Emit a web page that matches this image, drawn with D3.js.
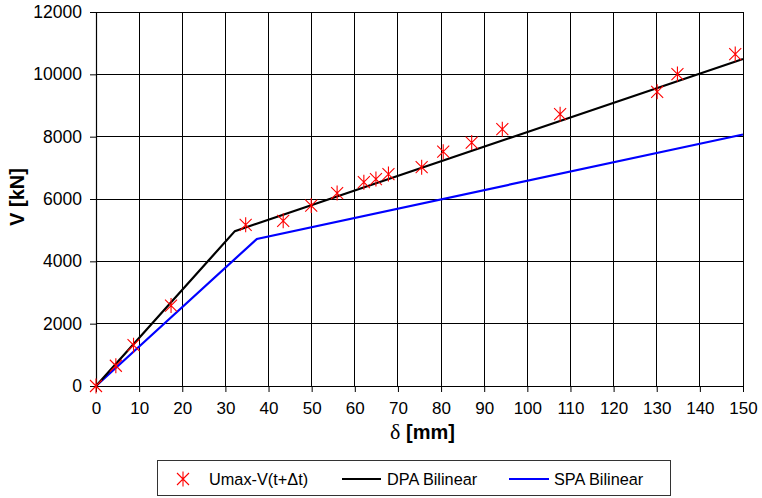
<!DOCTYPE html>
<html>
<head>
<meta charset="utf-8">
<script src="https://cdn.jsdelivr.net/npm/d3@7"></script>
<style>
  html, body { margin: 0; padding: 0; background: #fff; }
  svg { display: block; font-family: "Liberation Sans", Arial, Helvetica, sans-serif; }
</style>
</head>
<body>
<svg id="chart" width="762" height="498"></svg>
<script>
// Measured points: displacement δ [mm] and base shear V [kN]
const testDelta = [0, 4.6, 8.7, 17.4, 34.7, 43.4, 49.9, 55.9, 62.1, 64.9, 67.8, 75.5, 80.5, 87.1, 94.2, 107.6, 130.1, 134.8, 148.2];
const testV     = [0, 650, 1310, 2580, 5170, 5300, 5790, 6190, 6540, 6640, 6800, 7020, 7520, 7810, 8240, 8720, 9440, 10010, 10650];

// Bilinear idealisations
const dpaDelta = [0, 32.2, 150];
const dpaV     = [0, 4970, 10490];
const spaDelta = [0, 37.3, 150];
const spaV     = [0, 4720, 8070];

// Axis ticks
const xTickValues = [0, 10, 20, 30, 40, 50, 60, 70, 80, 90, 100, 110, 120, 130, 140, 150];
const yTickValues = [0, 2000, 4000, 6000, 8000, 10000, 12000];

const legendLabels = ["Umax-V(t+\u0394t)", "DPA Bilinear", "SPA Bilinear"];

const svg = d3.select("#chart");

const x = d3.scaleLinear().domain([0, 150]).range([96, 743]);
const y = d3.scaleLinear().domain([0, 12000]).range([386, 12]);

// Grid
const grid = svg.append("g").attr("stroke", "#000").attr("stroke-width", 1).attr("shape-rendering", "crispEdges");
grid.selectAll("line.v").data(xTickValues.slice(1)).join("line")
  .attr("x1", d => x(d)).attr("x2", d => x(d))
  .attr("y1", y(0)).attr("y2", y(12000));
grid.selectAll("line.h").data(yTickValues.slice(1)).join("line")
  .attr("x1", x(0)).attr("x2", x(150))
  .attr("y1", d => y(d)).attr("y2", d => y(d));

// Axes
const xAxis = d3.axisBottom(x).tickValues(xTickValues).tickSize(6).tickPadding(8).tickSizeOuter(0).tickFormat(d3.format("d"));
const yAxis = d3.axisLeft(y).tickValues(yTickValues).tickSize(6).tickPadding(8).tickSizeOuter(0).tickFormat(d3.format("d"));

const gx = svg.append("g").attr("transform", `translate(0,${y(0)})`).call(xAxis);
const gy = svg.append("g").attr("transform", `translate(${x(0)},0)`).call(yAxis);
[gx, gy].forEach(g => {
  g.select(".domain").attr("stroke", "#000").attr("stroke-width", 1.2);
  g.selectAll(".tick line").attr("stroke", "#000").attr("stroke-width", 1);
  g.selectAll(".tick text").attr("fill", "#000")
    .attr("font-family", "Liberation Sans, Arial, sans-serif");
});
gx.selectAll(".tick text").attr("font-size", 17).attr("dy", "0.8em");
gy.selectAll(".tick text").attr("font-size", 17.5);

// Axis titles
const xt = svg.append("text")
  .attr("x", x(75) + 3).attr("y", 439)
  .attr("text-anchor", "middle").attr("font-size", 20).attr("font-weight", "bold");
xt.append("tspan").attr("font-family", "Liberation Serif, Times New Roman, serif")
  .attr("font-weight", "normal").attr("font-size", 22).text("\u03B4");
xt.append("tspan").text(" [mm]");
svg.append("text")
  .attr("transform", "translate(24,197) rotate(-90)")
  .attr("text-anchor", "middle").attr("font-size", 20).attr("font-weight", "bold")
  .text("V [kN]");

// Bilinear curves
const line = d3.line().x(d => x(d[0])).y(d => y(d[1]));
svg.append("path")
  .datum(spaDelta.map((d, i) => [d, spaV[i]]))
  .attr("d", line).attr("fill", "none").attr("stroke", "#0000ff").attr("stroke-width", 2.2);
svg.append("path")
  .datum(dpaDelta.map((d, i) => [d, dpaV[i]]))
  .attr("d", line).attr("fill", "none").attr("stroke", "#000").attr("stroke-width", 2.2);

// Asterisk marker: vertical stroke plus a cross
function asterisk(cx, cy) {
  const w = 6, h = 7.5, dh = 6;
  return `M${cx},${cy - h}L${cx},${cy + h}` +
         `M${cx - w},${cy - dh}L${cx + w},${cy + dh}` +
         `M${cx - w},${cy + dh}L${cx + w},${cy - dh}`;
}
svg.append("g").selectAll("path")
  .data(testDelta.map((d, i) => [d, testV[i]]))
  .join("path")
  .attr("d", d => asterisk(x(d[0]), y(d[1])))
  .attr("fill", "none").attr("stroke", "#ff0000").attr("stroke-width", 1.1);

// Legend
const lg = svg.append("g");
lg.append("rect").attr("x", 157.5).attr("y", 460.5).attr("width", 513).attr("height", 35)
  .attr("fill", "#fff").attr("stroke", "#333").attr("stroke-width", 1);
lg.append("path").attr("d", asterisk(183, 479)).attr("fill", "none")
  .attr("stroke", "#ff0000").attr("stroke-width", 1.1);
lg.append("line").attr("x1", 342).attr("x2", 381).attr("y1", 479).attr("y2", 479)
  .attr("stroke", "#000").attr("stroke-width", 2.2);
lg.append("line").attr("x1", 509).attr("x2", 549).attr("y1", 479).attr("y2", 479)
  .attr("stroke", "#0000ff").attr("stroke-width", 2.2);
const lx = [209, 387, 554];
lg.selectAll("text").data(legendLabels).join("text")
  .attr("x", (d, i) => lx[i]).attr("y", 485)
  .attr("font-size", 16.3).attr("fill", "#000")
  .text(d => d);
</script>
</body>
</html>
